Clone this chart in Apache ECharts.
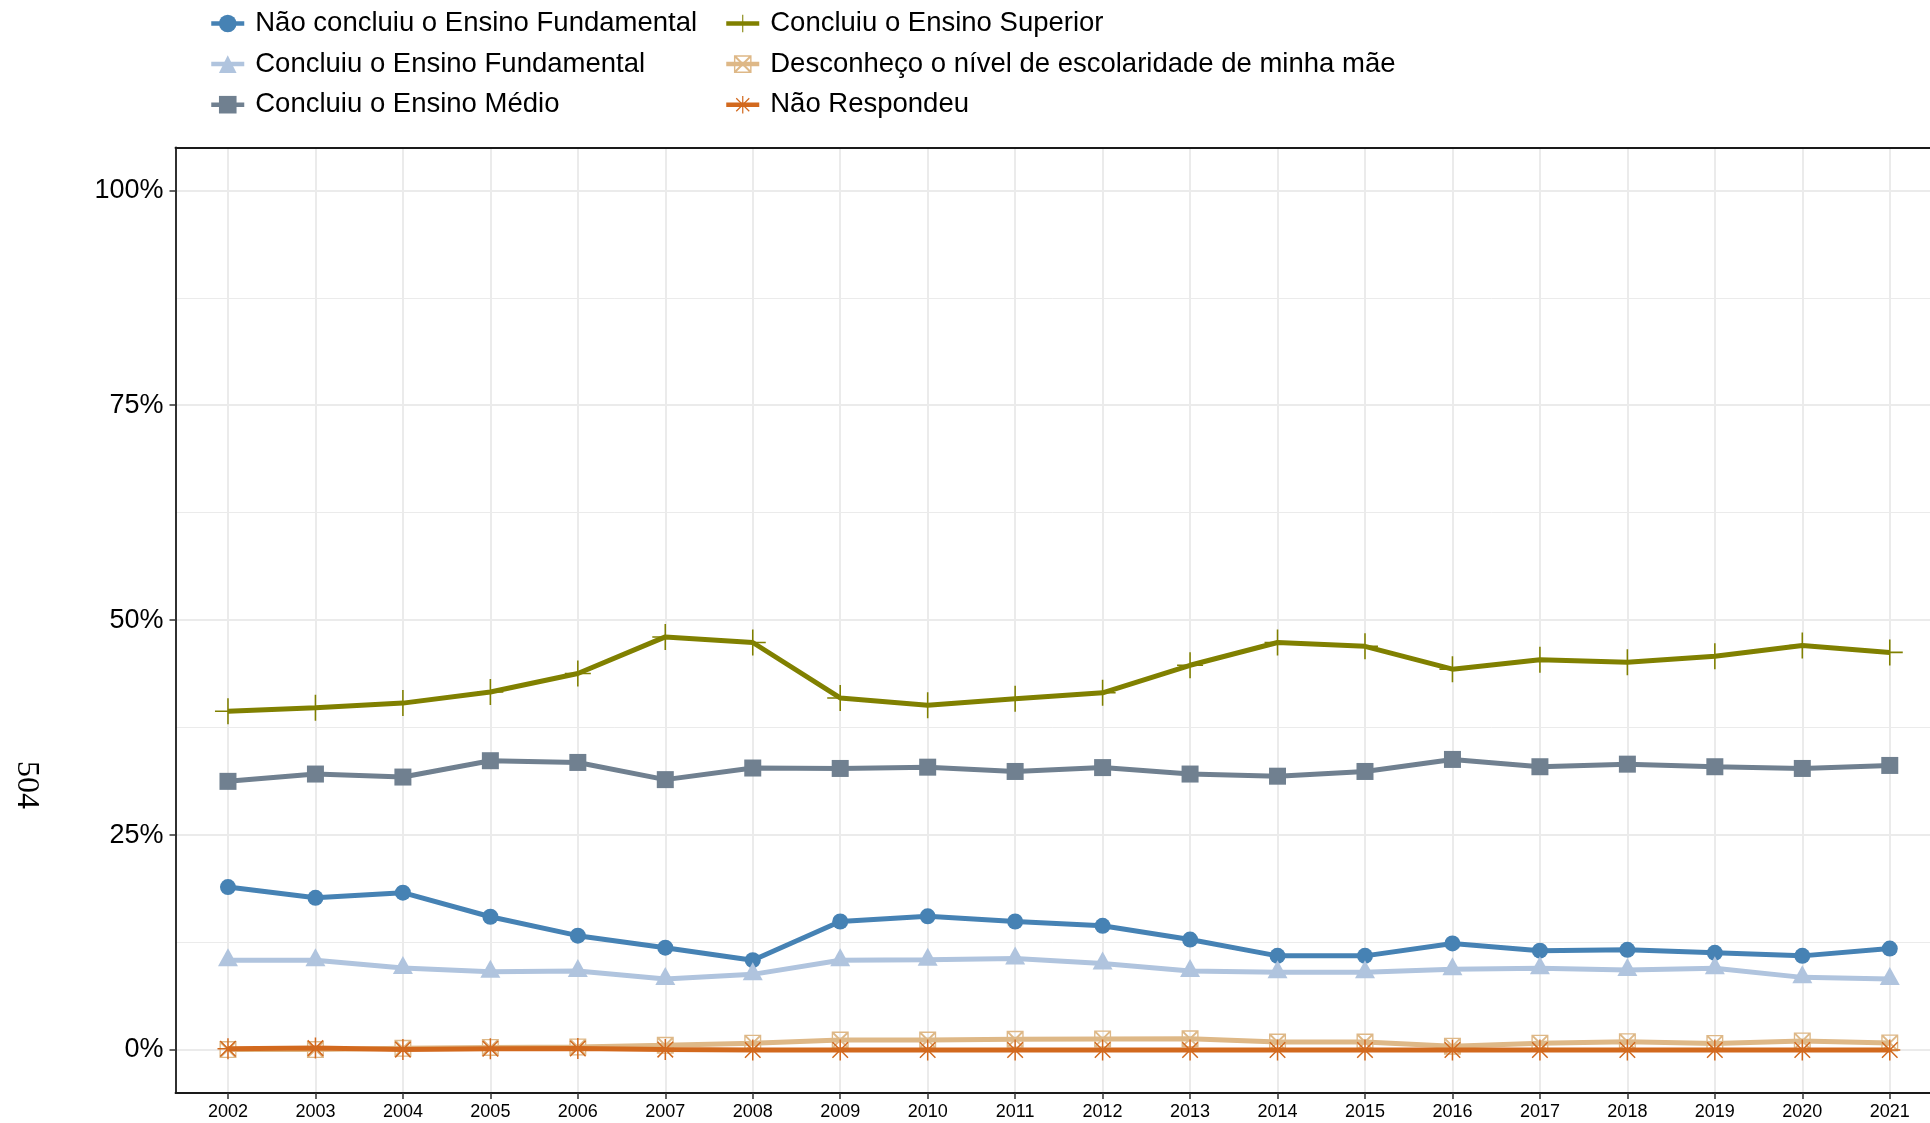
<!DOCTYPE html>
<html><head><meta charset="utf-8">
<script src="https://cdn.jsdelivr.net/npm/echarts@6/dist/echarts.min.js"></script>
<style>html,body{margin:0;padding:0;background:#fff}#c{width:1930px;height:1123px}</style>
</head><body><div id="c"></div>
<script>
const years = [2002,2003,2004,2005,2006,2007,2008,2009,2010,2011,2012,2013,2014,2015,2016,2017,2018,2019,2020,2021];
const yTicks = [0,25,50,75,100];
const yMinor = [12.5,37.5,62.5,87.5];
const seriesNames = ['Não concluiu o Ensino Fundamental','Concluiu o Ensino Fundamental','Concluiu o Ensino Médio','Concluiu o Ensino Superior','Desconheço o nível de escolaridade de minha mãe','Não Respondeu'];
const naoConcluiuFundamental = [18.95,17.7,18.3,15.5,13.3,11.9,10.45,14.95,15.55,14.95,14.45,12.85,10.95,10.95,12.4,11.55,11.65,11.3,10.95,11.8];
const concluiuFundamental = [10.45,10.45,9.55,9.1,9.2,8.25,8.8,10.45,10.5,10.65,10.05,9.2,9.05,9.05,9.4,9.5,9.3,9.5,8.45,8.25];
const concluiuMedio = [31.25,32.1,31.75,33.65,33.45,31.45,32.8,32.75,32.9,32.4,32.85,32.1,31.85,32.4,33.8,32.95,33.25,32.95,32.75,33.1];
const concluiuSuperior = [39.4,39.8,40.35,41.65,43.8,48.05,47.4,40.95,40.1,40.85,41.55,44.75,47.4,46.95,44.3,45.4,45.1,45.8,47.05,46.25];
const desconheco = [0.05,0.05,0.2,0.3,0.35,0.55,0.8,1.16,1.16,1.24,1.28,1.3,0.93,0.93,0.45,0.8,0.97,0.77,1.05,0.82];
const naoRespondeu = [0.15,0.22,0.05,0.15,0.18,0.05,0,0,0,0,0,0,0,0,0,0,0,0,0,0];

const colors = ['#4682B4','#B0C4DE','#708090','#808000','#DEB887','#D2691E'];
const PLUS = 'path://M47,0 L53,0 L53,47 L100,47 L100,53 L53,53 L53,100 L47,100 L47,53 L0,53 L0,47 L47,47 Z';
const BOXX = 'path://M0,0 L100,0 L100,100 L0,100 Z M8,8 L8,92 L92,92 L92,8 Z M0,0 L8,0 L100,92 L100,100 L92,100 L0,8 Z M100,0 L100,8 L8,100 L0,100 L0,92 L92,0 Z';
const AST = 'path://M46.5,0 L53.5,0 L53.5,46.5 L100,46.5 L100,53.5 L53.5,53.5 L53.5,100 L46.5,100 L46.5,53.5 L0,53.5 L0,46.5 L46.5,46.5 Z M15.5,10.5 L89.5,84.5 L84.5,89.5 L10.5,15.5 Z M84.5,10.5 L89.5,15.5 L15.5,89.5 L10.5,84.5 Z';

const allValues = [naoConcluiuFundamental, concluiuFundamental, concluiuMedio, concluiuSuperior, desconheco, naoRespondeu];
const symbols = ['circle','triangle','rect',PLUS,BOXX,AST];
const symbolSizes = [16,[20,18],17,26,17,21];
const symbolOffsets = [[0,0],[0,-3],[0,0],[0,0],[0,0],[0,0]];

const gridLines = [];
years.forEach(y => gridLines.push({xAxis: y, lineStyle:{color:'#ebebeb', width:2, type:'solid'}}));
yMinor.forEach(v => gridLines.push({yAxis: v, lineStyle:{color:'#ebebeb', width:1, type:'solid'}}));
yTicks.forEach(v => gridLines.push({yAxis: v, lineStyle:{color:'#ebebeb', width:2, type:'solid'}}));

const series = seriesNames.map((name, i) => {
  const s = {
    name, type:'line',
    data: years.map((y, j) => [y, allValues[i][j]]),
    symbol: symbols[i], symbolSize: symbolSizes[i], symbolOffset: symbolOffsets[i],
    lineStyle:{color: colors[i], width: 5},
    itemStyle:{color: colors[i], opacity:1},
    emphasis:{disabled:true},
    z: 3 + i, animation:false
  };
  if (i === 0) {
    s.markLine = {silent:true, symbol:['none','none'], label:{show:false}, animation:false, z:0, data: gridLines};
  }
  return s;
});

const legendText = {fontSize:27.5, color:'#000', fontFamily:'Liberation Sans, Arial, sans-serif', lineHeight:28, padding:[0,0,0,6]};
const chart = echarts.init(document.getElementById('c'), null, {renderer:'canvas'});
const xMin = 2001.4, xMax = 2021.46;
chart.setOption({
  backgroundColor:'#fff',
  animation:false,
  legend:[
    {data: seriesNames.slice(0,3), orient:'vertical', left:204, top:4.5, itemWidth:33, itemHeight:22, itemGap:12.6, textStyle:legendText, lineStyle:{width:4.5}, selectedMode:false},
    {data: seriesNames.slice(3,6), orient:'vertical', left:719, top:4.5, itemWidth:33, itemHeight:22, itemGap:12.6, textStyle:legendText, lineStyle:{width:4.5}, selectedMode:false}
  ],
  grid:{left:175.5, top:147.3, right:0, height:945.7, show:false, containLabel:false},
  xAxis:[{type:'value', min:xMin, max:xMax, position:'bottom',
    axisLine:{show:true, onZero:false, lineStyle:{color:'#1a1a1a', width:1.8}},
    axisTick:{show:true, customValues: years, length:6, lineStyle:{color:'#333', width:1.5}},
    axisLabel:{customValues: years, formatter: v => String(v), fontSize:18, color:'#000', margin:10, fontFamily:'Liberation Sans, Arial, sans-serif'},
    splitLine:{show:false}},
    {type:'value', min:xMin, max:xMax, position:'top',
    axisLine:{show:true, onZero:false, lineStyle:{color:'#1a1a1a', width:1.8}},
    axisTick:{show:false}, axisLabel:{show:false}, splitLine:{show:false}}],
  yAxis:{type:'value', min:-5, max:105,
    axisLine:{show:true, onZero:false, lineStyle:{color:'#1a1a1a', width:1.8}},
    axisTick:{show:true, customValues: yTicks, length:6, lineStyle:{color:'#333', width:1.5}},
    axisLabel:{customValues: yTicks, formatter: v => v + '%', fontSize:27, color:'#000', margin:12, fontFamily:'Liberation Sans, Arial, sans-serif'},
    splitLine:{show:false}},
  graphic:[{type:'text', x:26, y:785, rotation:-Math.PI/2,
    style:{text:'504', font:'32px "Liberation Serif"', fill:'#000', align:'center', verticalAlign:'middle'}}],
  series
});
</script></body></html>
